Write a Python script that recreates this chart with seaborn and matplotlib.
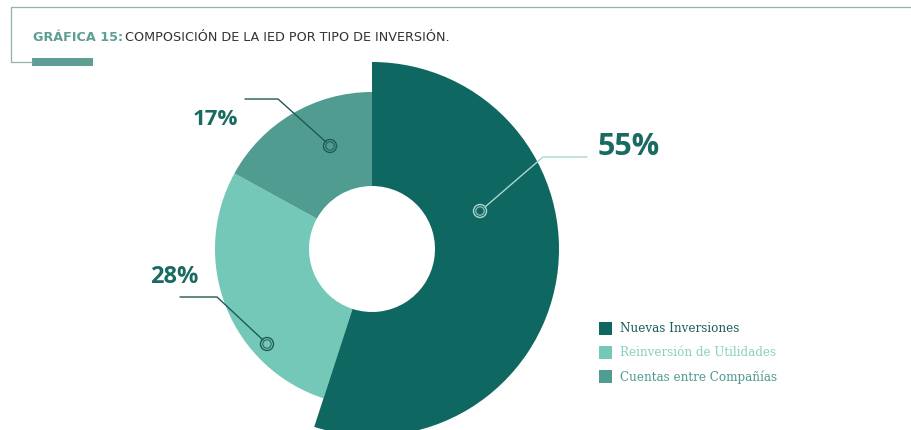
import numpy as np
import matplotlib
matplotlib.use("Agg")
import matplotlib.pyplot as plt
from matplotlib.patches import Circle, Rectangle
import seaborn as sns

# ---- data ----
categories = ["Nuevas Inversiones", "Reinversión de Utilidades", "Cuentas entre Compañías"]
values = [55, 28, 17]
pct_labels = ["55%", "28%", "17%"]

# ---- style ----
sns.set_theme(style="white")
plt.rcParams['font.family'] = ['Open Sans', 'DejaVu Sans']

W, H = 911, 431
palette = sns.color_palette(["#0E6760", "#74C8B8", "#509C90"])
legend_text_colors = ["#1D5E58", "#8AD0C2", "#4F9A8F"]
label_color = "#1B6A62"

fig = plt.figure(figsize=(W / 100, H / 100), dpi=100)
ax = fig.add_axes([0, 0, 1, 1])

def Y(y):
    return H - y

cx, cy = 372, 250
r_small, r_big, r_hole = 157, 187, 63

wedges, _ = ax.pie(values, colors=palette, startangle=90, counterclock=False,
                   radius=r_small, center=(cx, Y(cy)),
                   wedgeprops=dict(width=r_small - r_hole, linewidth=0))
wedges[0].set_radius(r_big)
wedges[0].set_width(r_big - r_hole)
wedges[0].set_zorder(3)
for w in wedges[1:]:
    w.set_zorder(2)

ax.set_xlim(0, W)
ax.set_ylim(0, H)
ax.set_aspect('auto')
ax.axis('off')

# ---- frame decoration ----
frame_c = "#8FB3AE"
ax.plot([11, W], [Y(8), Y(8)], color=frame_c, lw=0.9, solid_capstyle='butt')
ax.plot([11, 11], [Y(8), Y(63)], color=frame_c, lw=0.9)
ax.plot([11, 32], [Y(63), Y(63)], color=frame_c, lw=0.9)
ax.add_patch(Rectangle((32, Y(67)), 61, 8, color="#5E9E94", lw=0))

# ---- title ----
renderer = fig.canvas.get_renderer()
t1 = fig.text(33 / W, Y(41) / H, "GRÁFICA 15:", fontsize=9.2, fontweight='bold',
              family=['DejaVu Sans'], color="#5E9E94", va='baseline', ha='left')
bb = t1.get_window_extent(renderer=renderer)
fig.text((bb.x1 + 2) / W, Y(41) / H, "COMPOSICIÓN DE LA IED POR TIPO DE INVERSIÓN.",
         fontsize=9.2, family=['DejaVu Sans'], color="#333333", va='baseline', ha='left')

# ---- leader lines and labels ----
def ring(x, y, color, z=5):
    ax.add_patch(Circle((x, Y(y)), 6.5, fill=False, ec=color, lw=1.0, zorder=z))
    ax.add_patch(Circle((x, Y(y)), 4.2, fill=False, ec=color, lw=0.7, zorder=z))

dark_line = "#1F5A54"
light_line = "#A9D8CE"

# 17%
ax.plot([245, 278, 326], [Y(100), Y(100), Y(143)], color=dark_line, lw=1.0, zorder=5)
ring(330, 147, dark_line)
ax.text(238, Y(125), pct_labels[2], fontsize=16, fontweight='bold', color=label_color,
        ha='right', va='baseline')

# 28%
ax.plot([180, 217, 263], [Y(298), Y(298), Y(341)], color=dark_line, lw=1.0, zorder=5)
ring(267, 345, dark_line)
ax.text(150, Y(283), pct_labels[1], fontsize=17, fontweight='bold', color=label_color,
        ha='left', va='baseline')

# 55%
ax.plot([485, 543, 587], [Y(208), Y(158), Y(158)], color=light_line, lw=1.0, zorder=5)
ring(480, 212, light_line)
ax.text(598, Y(155), pct_labels[0], fontsize=22, fontweight='bold', color=label_color,
        ha='left', va='baseline')

# ---- legend ----
for i, (cat, col, tc) in enumerate(zip(categories, palette, legend_text_colors)):
    yc = 329 + 24 * i
    ax.add_patch(Rectangle((599, Y(yc) - 6.5), 13, 13, color=col, lw=0))
    ax.text(620, Y(yc), cat, fontsize=8.6, family=['DejaVu Serif'], color=tc,
            ha='left', va='center')

fig.savefig("out.png", dpi=100)
